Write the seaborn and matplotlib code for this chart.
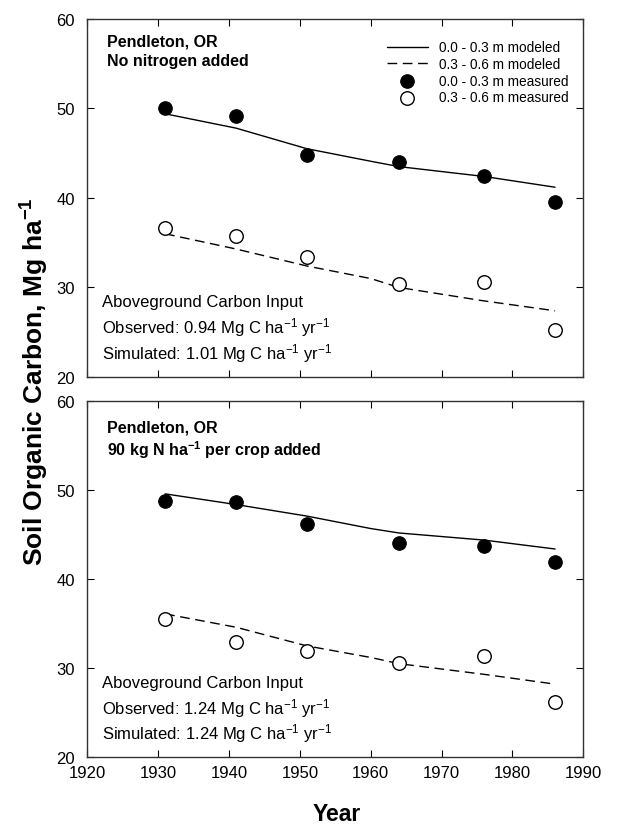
import matplotlib
matplotlib.use("Agg")
import matplotlib.pyplot as plt
import seaborn as sns
import pandas as pd

## data

years = [1931, 1941, 1951, 1964, 1976, 1986]
model_years = [1931, 1941, 1951, 1960, 1964, 1976, 1986]

# panel 1 : no nitrogen added
top_meas_shallow = [50.1, 49.1, 44.8, 44.0, 42.5, 39.6]
top_meas_deep = [36.7, 35.7, 33.4, 30.4, 30.6, 25.2]
top_mod_shallow = [49.4, 47.8, 45.5, 44.1, 43.5, 42.4, 41.2]
top_mod_deep = [36.0, 34.3, 32.4, 31.0, 30.0, 28.5, 27.4]

# panel 2 : 90 kg N added
bot_meas_shallow = [48.8, 48.7, 46.2, 44.1, 43.7, 41.9]
bot_meas_deep = [35.5, 32.9, 31.9, 30.6, 31.4, 26.2]
bot_mod_shallow = [49.6, 48.4, 47.1, 45.7, 45.2, 44.4, 43.4]
bot_mod_deep = [36.1, 34.6, 32.5, 31.2, 30.5, 29.3, 28.2]

titres = [("Pendleton, OR", "No nitrogen added"),
          ("Pendleton, OR", "90 kg N ha$^{-1}$ per crop added")]
pos_titres = [(0.939, 0.885), (0.927, 0.865)]
entrees = [("0.94", "1.01"), ("1.24", "1.24")]

sns.set_style("ticks")
plt.rcParams['font.family'] = ['Liberation Sans', 'DejaVu Sans']
plt.rcParams['mathtext.fontset'] = 'custom'
plt.rcParams['mathtext.rm'] = 'Liberation Sans'
plt.rcParams['mathtext.it'] = 'Liberation Sans:italic'
plt.rcParams['mathtext.bf'] = 'Liberation Sans:bold'
plt.rcParams['mathtext.default'] = 'regular'
plt.rcParams['text.color'] = 'black'
plt.rcParams['xtick.color'] = 'black'
plt.rcParams['ytick.color'] = 'black'

fig = plt.figure(figsize=(6.18, 8.29), dpi=100)
ax1 = fig.add_axes([0.141, 0.544, 0.803, 0.432])
ax2 = fig.add_axes([0.141, 0.0856, 0.803, 0.429])

panneaux = [
    (ax1, top_mod_shallow, top_mod_deep, top_meas_shallow, top_meas_deep),
    (ax2, bot_mod_shallow, bot_mod_deep, bot_meas_shallow, bot_meas_deep),
]

for k, (ax, ms, md, ps, pd_) in enumerate(panneaux):
    df_mod = pd.DataFrame({"year": model_years, "s": ms, "d": md})
    df_mes = pd.DataFrame({"year": years, "s": ps, "d": pd_})
    sns.lineplot(data=df_mod, x="year", y="s", ax=ax, color="black", lw=1,
                 label="0.0 - 0.3 m modeled")
    sns.lineplot(data=df_mod, x="year", y="d", ax=ax, color="black", lw=1,
                 label="0.3 - 0.6 m modeled")
    ax.lines[-1].set_dashes([7, 4])
    sns.scatterplot(data=df_mes, x="year", y="s", ax=ax, color="black",
                    edgecolor="black", s=95, label="0.0 - 0.3 m measured", zorder=3)
    sns.scatterplot(data=df_mes, x="year", y="d", ax=ax, color="white",
                    edgecolor="black", linewidth=1, s=95,
                    label="0.3 - 0.6 m measured", zorder=3)

    ax.set_xlim(1920, 1990)
    ax.set_ylim(20, 60)
    ax.set_xticks(range(1920, 1991, 10))
    ax.set_yticks(range(20, 61, 10))
    ax.tick_params(direction="in", top=True, right=True, labelsize=12,
                   length=5)
    ax.tick_params(axis="y", pad=9)
    ax.tick_params(axis="x", pad=6)
    ax.set_xlabel("")
    ax.set_ylabel("")
    for sp in ax.spines.values():
        sp.set_linewidth(1)
        sp.set_color("#333333")

    t1, t2 = titres[k]
    y1, y2 = pos_titres[k]
    ax.text(0.04, y1, t1, transform=ax.transAxes, fontsize=11.5,
            fontweight="bold", va="center")
    ax.text(0.04, y2, t2, transform=ax.transAxes, fontsize=11.5,
            fontweight="bold", va="center")

    obs, sim = entrees[k]
    ax.text(0.03, 0.21, "Aboveground Carbon Input", transform=ax.transAxes,
            fontsize=12, va="center")
    ax.text(0.03, 0.14, "Observed: " + obs + " Mg C ha$^{-1}$ yr$^{-1}$",
            transform=ax.transAxes, fontsize=12, va="center")
    ax.text(0.03, 0.068, "Simulated: " + sim + " Mg C ha$^{-1}$ yr$^{-1}$",
            transform=ax.transAxes, fontsize=12, va="center")

    if k == 0:
        leg = ax.legend(loc="upper right", bbox_to_anchor=(1.0, 0.982),
                        frameon=False, fontsize=9.8,
                        handlelength=3.0, handletextpad=0.8,
                        labelspacing=0.2, borderaxespad=0.7)
        ax.tick_params(labelbottom=False)
    else:
        ax.get_legend().remove()

fig.text(0.057, 0.54, "Soil Organic Carbon, Mg ha$^{-1}$", rotation=90,
         fontsize=19, fontweight="bold", ha="center", va="center")
fig.text(0.545, 0.018, "Year", fontsize=16.5, fontweight="bold",
         ha="center", va="center")

fig.savefig("out.png", dpi=100)
